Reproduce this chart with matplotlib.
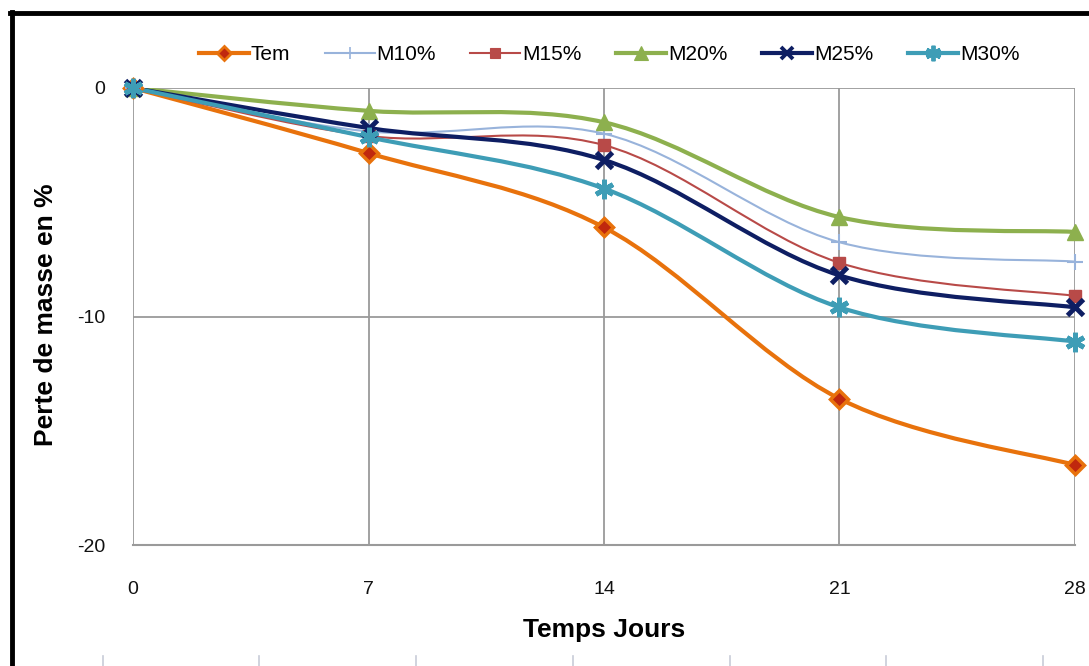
import numpy as np
import matplotlib
matplotlib.use("Agg")
import matplotlib.pyplot as plt
from matplotlib.path import Path
from matplotlib.patches import PathPatch
from matplotlib.lines import Line2D
from matplotlib import font_manager

# police étroite type Arial Narrow si dispo
names = set(f.name for f in font_manager.fontManager.ttflist)
fam = "Liberation Sans Narrow" if "Liberation Sans Narrow" in names else "Liberation Sans"
plt.rcParams['font.family'] = [fam, 'DejaVu Sans']
plt.rcParams['axes.unicode_minus'] = False

# données (perte de masse en %)
jours = [0, 7, 14, 21, 28]
tem = [0, -2.85, -6.1, -13.6, -16.5]
m10 = [0, -1.9, -2.0, -6.75, -7.6]
m15 = [0, -2.1, -2.5, -7.65, -9.1]
m20 = [0, -1.0, -1.5, -5.65, -6.3]
m25 = [0, -1.75, -3.15, -8.2, -9.6]
m30 = [0, -2.15, -4.4, -9.6, -11.1]

xticks = [0, 7, 14, 21, 28]
yticks = [0, -10, -20]

series = [
    # label, valeurs, couleur, lw, marker, ms, face, mew
    ("Tem", tem, "#E8720C", 3.0, "D", 9, "#C0280E", 2.5),
    ("M10%", m10, "#98B3DB", 1.5, "+", 11, "#98B3DB", 1.5),
    ("M15%", m15, "#B84A48", 1.5, "s", 9, "#B84A48", 1.0),
    ("M20%", m20, "#8DB04E", 3.0, "^", 12, "#8DB04E", 1.0),
    ("M25%", m25, "#0E1E63", 3.0, "x", 11, "#0E1E63", 3.5),
    ("M30%", m30, "#3E9DB6", 3.0, (6, 2, 0), 14, "#3E9DB6", 3.5),
]


def smooth_path(x, y):
    # courbe lissée façon Excel (Bézier cubique)
    p = np.column_stack([x, y]).astype(float)
    n = len(p)
    verts = [p[0]]
    codes = [Path.MOVETO]
    for i in range(n - 1):
        p0 = p[i - 1] if i > 0 else p[i]
        p3 = p[i + 2] if i + 2 < n else p[i + 1]
        c1 = p[i] + (p[i + 1] - p0) / 6
        c2 = p[i + 1] - (p3 - p[i]) / 6
        verts += [c1, c2, p[i + 1]]
        codes += [Path.CURVE4] * 3
    return Path(verts, codes)


fig = plt.figure(figsize=(10.89, 6.66), dpi=100)
ax = fig.add_axes([133 / 1089, 1 - 545 / 666, (1075 - 133) / 1089, (545 - 88) / 666])

handles = []
for lab, vals, col, lw, mk, ms, fc, mew in series:
    patch = PathPatch(smooth_path(jours, vals), facecolor="none", edgecolor=col,
                      lw=lw, zorder=3, capstyle="round", joinstyle="round")
    ax.add_patch(patch)
    ax.plot(jours, vals, linestyle="none", marker=mk, ms=ms, mfc=fc, mec=col,
            mew=mew, zorder=4, clip_on=False)
    handles.append(Line2D([], [], color=col, lw=lw, marker=mk, ms=ms * 0.8,
                          mfc=fc, mec=col, mew=mew * 0.8))

ax.set_xlim(0, 28)
ax.set_ylim(-20, 0)
ax.set_xticks(xticks)
ax.set_yticks(yticks)
ax.grid(True, color="#9A9A9A", lw=1.3)
ax.set_axisbelow(True)
for s in ax.spines.values():
    s.set_visible(False)
ax.spines["bottom"].set_visible(True)
ax.spines["bottom"].set_color("#9A9A9A")
ax.spines["bottom"].set_linewidth(1.5)
ax.tick_params(length=0, labelsize=14, colors="#111111")
ax.tick_params(axis="x", pad=26)
ax.tick_params(axis="y", pad=20)

ax.set_xlabel("Temps Jours", fontsize=19, fontweight="bold")
ax.xaxis.set_label_coords(0.5, -(630 - 545) / (545 - 88), transform=ax.transAxes)
ax.xaxis.label.set_va("center")
ax.set_ylabel("Perte de masse en %", fontsize=19, fontweight="bold")
ax.yaxis.set_label_coords(-(133 - 46) / (1075 - 133), (545 - 315) / (545 - 88))
ax.yaxis.label.set_va("center")

fig.legend(handles, [s[0] for s in series], loc="center", ncol=6,
           bbox_to_anchor=(609 / 1089, 1 - 55 / 666), frameon=False, fontsize=15,
           handlelength=2.4, columnspacing=1.65, handletextpad=0.1)

# cadre noir (bord gauche et haut)
fig.add_artist(Line2D([12 / 1089, 12 / 1089], [0, 1 - 12 / 666],
                      transform=fig.transFigure, color="black", lw=3.5))
fig.add_artist(Line2D([10 / 1089, 1], [1 - 13 / 666, 1 - 13 / 666],
                      transform=fig.transFigure, color="black", lw=3.5))
# petits traits en bas (graphique suivant)
for xp in [103, 259, 416, 573, 730, 886, 1043]:
    fig.add_artist(Line2D([xp / 1089, xp / 1089], [0, 10 / 666],
                          transform=fig.transFigure, color="#C8CCD8", lw=1.2))

fig.savefig("out.png", dpi=100)
